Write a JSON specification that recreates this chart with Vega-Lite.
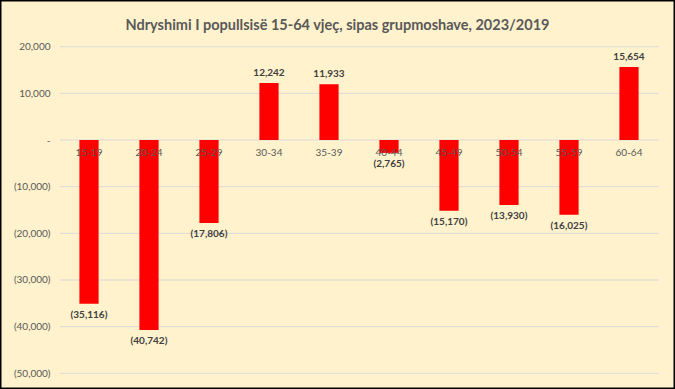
{
  "$schema": "https://vega.github.io/schema/vega-lite/v6.json",
  "width": 675,
  "height": 389,
  "autosize": {"type": "none"},
  "padding": 0,
  "background": "#FFF2CC",
  "config": {
    "view": {"stroke": "#000000", "strokeWidth": 3, "fill": "#FFF2CC"},
    "font": "Lato"
  },
  "title": {
    "text": "Ndryshimi I popullsisë 15-64 vjeç, sipas grupmoshave, 2023/2019",
    "fontSize": 14.5,
    "fontWeight": "bold",
    "color": "#595959",
    "font": "Lato",
    "anchor": "middle",
    "frame": "group",
    "offset": -33
  },
  "layer": [
    {
      "data": {"values": [{"v": 20000}, {"v": 10000}, {"v": 0}, {"v": -10000}, {"v": -20000}, {"v": -30000}, {"v": -40000}, {"v": -50000}]},
      "mark": {"type": "rule", "color": "#D9D9D9", "strokeWidth": 1},
      "encoding": {
        "y": {
          "field": "v",
          "type": "quantitative",
          "title": null,
          "scale": {"domain": [-50000, 20000], "range": [373.3, 46.7], "nice": false, "zero": false},
          "axis": {
            "orient": "left",
            "offset": -54,
            "domain": false,
            "ticks": false,
            "tickSize": 0,
            "grid": false,
            "labelPadding": 4,
            "values": [20000, 10000, 0, -10000, -20000, -30000, -40000, -50000],
            "labelExpr": "datum.value > 0 ? format(datum.value, ',') : (datum.value < 0 ? '(' + format(-datum.value, ',') + ')' : '-')",
            "labelColor": "#595959",
            "labelFontSize": 10,
            "labelFont": "Lato"
          }
        },
        "x": {"datum": 0, "type": "quantitative", "scale": {"domain": [0, 1], "range": [60, 659]}, "axis": null},
        "x2": {"datum": 1}
      }
    },
    {
      "data": {
        "values": [
          {"group": "15-19", "value": -35116},
          {"group": "20-24", "value": -40742},
          {"group": "25-29", "value": -17806},
          {"group": "30-34", "value": 12242},
          {"group": "35-39", "value": 11933},
          {"group": "40-44", "value": -2765},
          {"group": "45-49", "value": -15170},
          {"group": "50-54", "value": -13930},
          {"group": "55-59", "value": -16025},
          {"group": "60-64", "value": 15654}
        ]
      },
      "encoding": {
        "x": {
          "field": "group",
          "type": "nominal",
          "sort": null,
          "title": null,
          "scale": {"range": [59, 659], "paddingInner": 0.68, "paddingOuter": 0.34},
          "axis": {
            "orient": "bottom",
            "offset": -248.5,
            "domain": false,
            "ticks": false,
            "tickSize": 0,
            "grid": false,
            "labelPadding": 7,
            "labelAngle": 0,
            "labelColor": "#595959",
            "labelFontSize": 10,
            "labelFont": "Lato",
            "zindex": 1
          }
        },
        "y": {"field": "value", "type": "quantitative", "title": null}
      },
      "layer": [
        {"mark": {"type": "bar", "color": "#FF0000"}, "encoding": {"y2": {"datum": 0}}},
        {
          "transform": [{"filter": "datum.value >= 0"}],
          "mark": {"type": "text", "baseline": "bottom", "dy": -5, "fontWeight": "bold", "fontSize": 10, "color": "#404040", "font": "Lato"},
          "encoding": {"text": {"field": "value", "type": "quantitative", "format": "(,"}}
        },
        {
          "transform": [{"filter": "datum.value < 0"}],
          "mark": {"type": "text", "baseline": "top", "dy": 6, "fontWeight": "bold", "fontSize": 10, "color": "#404040", "font": "Lato"},
          "encoding": {"text": {"field": "value", "type": "quantitative", "format": "(,"}}
        }
      ]
    }
  ],
  "resolve": {"scale": {"x": "independent"}}
}
